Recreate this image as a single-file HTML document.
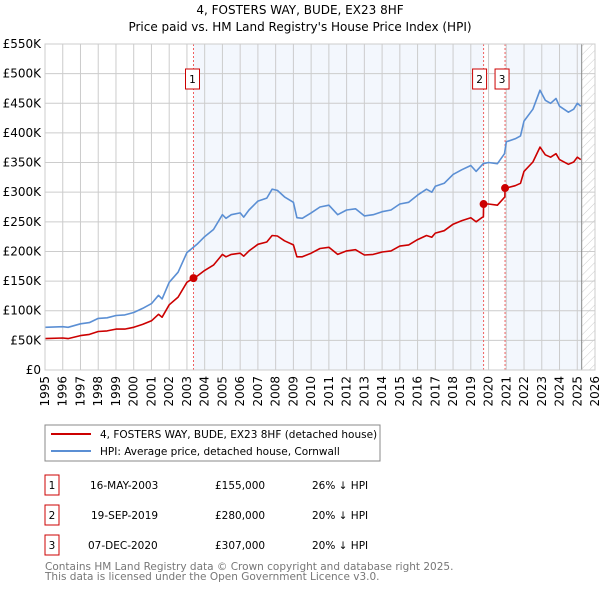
<!DOCTYPE html>
<html><head><meta charset="utf-8"><style>
body{margin:0;background:#fff;font-family:"DejaVu Sans","Liberation Sans",sans-serif;}
svg text{font-family:"DejaVu Sans","Liberation Sans",sans-serif;}
</style></head><body>
<svg id="chart" width="600" height="590" viewBox="0 0 600 590" xmlns="http://www.w3.org/2000/svg">
<defs><pattern id="hatch" width="6" height="6" patternUnits="userSpaceOnUse" patternTransform="rotate(45)"><line x1="0" y1="0" x2="0" y2="6" stroke="#ccc" stroke-width="1"/></pattern></defs>
<text x="300" y="14" text-anchor="middle" font-size="12">4, FOSTERS WAY, BUDE, EX23 8HF</text>
<text x="300" y="31" text-anchor="middle" font-size="12">Price paid vs. HM Land Registry's House Price Index (HPI)</text>
<g id="plot"></g>
<g>
<rect x="45" y="425" width="335" height="36" fill="#fff" stroke="#888"/>
<line x1="51" y1="434" x2="91" y2="434" stroke="#cc0000" stroke-width="2"/>
<text x="100" y="438" font-size="10.5">4, FOSTERS WAY, BUDE, EX23 8HF (detached house)</text>
<line x1="51" y1="451" x2="91" y2="451" stroke="#5b8fd4" stroke-width="2"/>
<text x="100" y="455" font-size="10.5">HPI: Average price, detached house, Cornwall</text>
</g>
<g font-size="10.5">
<rect x="45" y="475" width="14" height="20" fill="#fff" stroke="#cc0000"/><text x="52" y="489" text-anchor="middle">1</text>
<text x="90" y="489">16-MAY-2003</text><text x="215" y="489">£155,000</text><text x="312" y="489">26% ↓ HPI</text>
<rect x="45" y="505" width="14" height="20" fill="#fff" stroke="#cc0000"/><text x="52" y="519" text-anchor="middle">2</text>
<text x="91" y="519">19-SEP-2019</text><text x="215" y="519">£280,000</text><text x="312" y="519">20% ↓ HPI</text>
<rect x="45" y="535" width="14" height="20" fill="#fff" stroke="#cc0000"/><text x="52" y="549" text-anchor="middle">3</text>
<text x="88" y="549">07-DEC-2020</text><text x="215" y="549">£307,000</text><text x="312" y="549">20% ↓ HPI</text>
</g>
<text x="45" y="570" font-size="10.5" fill="#777">Contains HM Land Registry data © Crown copyright and database right 2025.</text>
<text x="45" y="580" font-size="10.5" fill="#777">This data is licensed under the Open Government Licence v3.0.</text>
</svg>
<script>
const hpiYears=[1995,1996,1996.3,1997,1997.5,1998,1998.5,1999,1999.5,2000,2000.5,2001,2001.4,2001.6,2002,2002.5,2003,2003.4,2003.6,2004,2004.5,2005,2005.2,2005.5,2006,2006.2,2006.5,2007,2007.5,2007.8,2008.1,2008.5,2009,2009.2,2009.5,2010,2010.5,2011,2011.5,2012,2012.5,2013,2013.5,2014,2014.5,2015,2015.5,2016,2016.5,2016.8,2017,2017.5,2018,2018.5,2019,2019.3,2019.7,2020,2020.5,2020.9,2021,2021.5,2021.8,2022,2022.5,2022.9,2023.2,2023.5,2023.8,2024,2024.5,2024.8,2025,2025.2];
const hpiValues=[72,73,72,78,80,87,88,92,93,97,104,112,126,120,148,165,198,208,213,225,237,262,256,262,265,258,270,285,290,305,303,292,283,257,256,265,275,278,262,270,272,260,262,267,270,280,283,295,305,300,310,315,330,338,345,335,348,350,348,365,385,390,395,420,440,472,455,450,458,445,435,440,450,445];
const propYears=[1995,1996,1996.3,1997,1997.5,1998,1998.5,1999,1999.5,2000,2000.5,2001,2001.4,2001.6,2002,2002.5,2003,2003.37,2003.6,2004,2004.5,2005,2005.2,2005.5,2006,2006.2,2006.5,2007,2007.5,2007.8,2008.1,2008.5,2009,2009.2,2009.5,2010,2010.5,2011,2011.5,2012,2012.5,2013,2013.5,2014,2014.5,2015,2015.5,2016,2016.5,2016.8,2017,2017.5,2018,2018.5,2019,2019.3,2019.71,2019.72,2020,2020.5,2020.92,2020.93,2021,2021.5,2021.8,2022,2022.5,2022.9,2023.2,2023.5,2023.8,2024,2024.5,2024.8,2025,2025.2];
const propValues=[53,54,53,58,60,65,66,69,69,72,77,83,94,89,110,123,148,155,159,168,177,195,191,195,197,192,201,212,216,227,226,218,211,191,191,197,205,207,195,201,203,194,195,199,201,209,211,220,227,224,231,235,246,252,257,250,259,280,280,278,292,307,307,311,315,335,351,376,363,359,365,355,347,351,359,355];
const saleYears=[2003.37,2019.72,2020.93];
const saleValues=[155,280,307];
const saleLabels=["1","2","3"];
const yTicks=[0,50,100,150,200,250,300,350,400,450,500,550];
const yTickLabels=["£0","£50K","£100K","£150K","£200K","£250K","£300K","£350K","£400K","£450K","£500K","£550K"];
const xTicks=[1995,1996,1997,1998,1999,2000,2001,2002,2003,2004,2005,2006,2007,2008,2009,2010,2011,2012,2013,2014,2015,2016,2017,2018,2019,2020,2021,2022,2023,2024,2025,2026];
const dataEndYear=2025.25;

const X0=45,X1=595,Y0=370,Y1=44;
const xs=y=>X0+(y-1995)/(2026-1995)*(X1-X0);
const ys=v=>Y0-v/550*(Y0-Y1);
const NS="http://www.w3.org/2000/svg";
const g=document.getElementById('plot');
function mk(tag,attrs){const e=document.createElementNS(NS,tag);for(const k in attrs)e.setAttribute(k,attrs[k]);g.appendChild(e);return e;}

let r=mk('rect',{x:X0,y:Y1,width:X1-X0,height:Y0-Y1,fill:'#fff'});


r=mk('rect',{x:xs(saleYears[0]),y:Y1,width:xs(saleYears[1])-xs(saleYears[0]),height:Y0-Y1,fill:'#eef3fc',opacity:0.7});


r=mk('rect',{x:xs(saleYears[2]),y:Y1,width:xs(dataEndYear)-xs(saleYears[2]),height:Y0-Y1,fill:'#eef3fc',opacity:0.7});


r=mk('rect',{x:xs(dataEndYear),y:Y1,width:X1-xs(dataEndYear),height:Y0-Y1,fill:'url(#hatch)'});



xTicks.forEach(t=>{
  const l=mk('line',{x1:xs(t),x2:xs(t),y1:Y1,y2:Y0,stroke:'#ccc','stroke-width':1});
  
  
  const tx=mk('text',{x:0,y:0,'font-size':12,'text-anchor':'end',transform:`translate(${xs(t)+4},${Y0+6}) rotate(-90)`});
  tx.textContent=t;
  
  
});
yTicks.forEach((t,i)=>{
  const l=mk('line',{x1:X0,x2:X1,y1:ys(t),y2:ys(t),stroke:'#ccc','stroke-width':1});
  
  
  const tx=mk('text',{x:X0-4,y:ys(t)+4,'font-size':12,'text-anchor':'end'});
  tx.textContent=yTickLabels[i];
  
  
});
const el=mk('line',{x1:xs(dataEndYear),x2:xs(dataEndYear),y1:Y1,y2:Y0,stroke:'#888','stroke-width':1});



saleYears.forEach((s,i)=>{
  const l=mk('line',{x1:xs(s),x2:xs(s),y1:Y1,y2:Y0,stroke:'#f06060','stroke-width':1,'stroke-dasharray':'2,2'});
  
  
  const bx=mk('rect',{x:xs(s)-(i==0?12:10)+(i==0?4:i==1?-1:0),y:69,width:14,height:20,fill:'#fff',stroke:'#cc0000'});
  
  
  const t=mk('text',{x:parseFloat(bx.getAttribute('x'))+7,y:83,'font-size':10.5,'text-anchor':'middle'});
  t.textContent=saleLabels[i];
  
  
});

function path(xa,va,color,name){
  const d=xa.map((x,i)=>(i?'L':'M')+xs(x).toFixed(1)+','+ys(va[i]).toFixed(1)).join('');
  const p=mk('path',{d:d,fill:'none',stroke:color,'stroke-width':1.6,'stroke-linejoin':'round'});
  
  
}
path(hpiYears,hpiValues,'#5b8fd4','hpi-line');
path(propYears,propValues,'#cc0000','property-line');
saleYears.forEach((s,i)=>{
  const c=mk('circle',{cx:xs(s),cy:ys(saleValues[i]),r:4,fill:'#cc0000'});
  
  
});
const bd=mk('rect',{x:X0,y:Y1,width:X1-X0,height:Y0-Y1,fill:'none',stroke:'#ccc'});


</script>
</body></html>
